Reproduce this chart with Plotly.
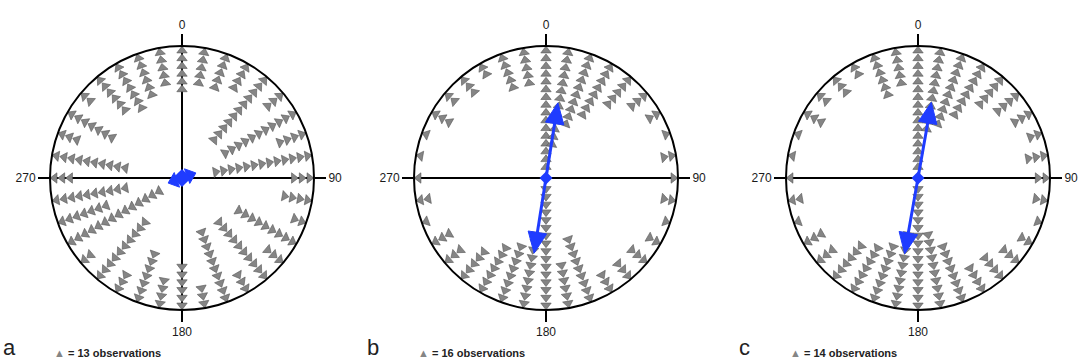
import math
import plotly.graph_objects as go

# ---------------- data ----------------
bin_angles = list(range(0, 360, 10))          # bin centres (degrees, compass)
counts_a = [6, 5, 5, 4, 11, 3, 11, 4, 13, 3, 4, 2, 9, 3, 10, 3, 10, 3,
            6, 4, 7, 3, 10, 2, 14, 7, 10, 3, 10, 3, 7, 2, 6, 7, 6, 5]
counts_b = [16, 13, 10, 8, 5, 3, 2, 1, 2, 1, 2, 1, 2, 3, 3, 3, 9, 6,
            16, 10, 8, 7, 5, 3, 3, 1, 2, 1, 1, 1, 3, 2, 3, 2, 5, 5]
counts_c = [16, 11, 10, 8, 5, 4, 3, 2, 3, 2, 2, 1, 2, 3, 4, 4, 8, 10,
            16, 10, 8, 7, 6, 3, 3, 1, 2, 1, 1, 1, 3, 2, 3, 2, 6, 5]
obs_per_symbol = [13, 16, 14]
mean_dir = [70, 9, 10]            # axial mean direction (deg)
mean_len = [1.9, 9.8, 9.9]        # mean vector length (symbol units)
panel_letters = ["a", "b", "c"]
tick_vals = [0, 90, 180, 270]
tick_text = ["0", "90", "180", "270"]
axis_lines = [[(0, 180), (270, 90)], [(270, 90)], [(270, 90)]]

# ---------------- style ----------------
W, H = 1084, 362
R_MAX = 17.0
OUTER = 16.4
centers_px = [182, 546, 918]
cy_px = 178
rad_px = 132
BLUE = "#1f3cff"
head_len = [1.2, 2.7, 2.7]
head_half = [1.0, 1.2, 1.2]
diam_size = [14, 10, 10]

all_counts = [counts_a, counts_b, counts_c]
fig = go.Figure()

def head_polygon(L, d, hl, hh):
    rb = L - hl
    rc = math.hypot(rb, hh)
    da = math.degrees(math.atan2(hh, rb))
    return [L, rc, rc, L], [d, d - da, d + da, d]

for i in range(3):
    sp = "polar" if i == 0 else f"polar{i+1}"
    # axis lines
    for (t1, t2) in axis_lines[i]:
        fig.add_trace(go.Scatterpolar(r=[R_MAX, 0, R_MAX], theta=[t1, 0, t2], mode="lines",
                                      line=dict(color="black", width=2), subplot=sp,
                                      hoverinfo="skip", showlegend=False))
    # stacked triangles
    rr, tt = [], []
    for ang, n in zip(bin_angles, all_counts[i]):
        for k in range(n):
            rr.append(OUTER - k)
            tt.append(ang)
    fig.add_trace(go.Scatterpolar(r=rr, theta=tt, mode="markers", subplot=sp,
                                  marker=dict(symbol="triangle-up", size=9, angle=tt,
                                              color="#858585",
                                              line=dict(color="#555555", width=0.6)),
                                  hoverinfo="skip", showlegend=False))
    # mean axis arrow
    d = mean_dir[i]
    L = mean_len[i]
    rb = L - head_len[i] * 0.6
    fig.add_trace(go.Scatterpolar(r=[rb, 0, rb], theta=[d + 180, d, d], mode="lines",
                                  line=dict(color=BLUE, width=3), subplot=sp,
                                  hoverinfo="skip", showlegend=False))
    for dd in (d, d + 180):
        pr, pt = head_polygon(L, dd, head_len[i], head_half[i])
        fig.add_trace(go.Scatterpolar(r=pr, theta=pt, mode="lines", fill="toself",
                                      fillcolor=BLUE, line=dict(color=BLUE, width=1),
                                      subplot=sp, hoverinfo="skip", showlegend=False))
    fig.add_trace(go.Scatterpolar(r=[0], theta=[0], mode="markers", subplot=sp,
                                  marker=dict(symbol="diamond", size=diam_size[i], color=BLUE),
                                  hoverinfo="skip", showlegend=False))

    cx = centers_px[i]
    dom_x = [(cx - rad_px) / W, (cx + rad_px) / W]
    dom_y = [1 - (cy_px + rad_px) / H, 1 - (cy_px - rad_px) / H]
    fig.update_layout(**{sp: dict(
        domain=dict(x=dom_x, y=dom_y),
        bgcolor="white",
        radialaxis=dict(visible=False, range=[0, R_MAX]),
        angularaxis=dict(rotation=90, direction="clockwise", tickmode="array",
                         tickvals=tick_vals, ticktext=tick_text, ticks="outside",
                         ticklen=11, tickwidth=2, tickcolor="black",
                         showline=True, linecolor="black", linewidth=2,
                         showgrid=False,
                         tickfont=dict(family="Liberation Sans, Arial", size=12, color="#1a1a1a")),
    )})

    fig.add_annotation(x=(cx - 181) / W, y=0, xref="paper", yref="paper",
                       xanchor="left", yanchor="bottom", showarrow=False,
                       text=panel_letters[i],
                       font=dict(family="Liberation Sans, Arial", size=22, color="#222"))
    fig.add_annotation(x=(cx - 130) / W, y=1 - 353 / H, xref="paper", yref="paper",
                       xanchor="left", yanchor="middle", showarrow=False,
                       text=f'<span style="color:#858585">▲</span> <b>= {obs_per_symbol[i]} observations</b>',
                       font=dict(family="Liberation Sans, Arial", size=11, color="#222"))

fig.update_layout(width=W, height=H, margin=dict(l=0, r=0, t=0, b=0),
                  paper_bgcolor="white", plot_bgcolor="white", showlegend=False)
fig.write_html("out.html", config={"displayModeBar": False, "staticPlot": True},
               post_script="document.body.style.margin='0';document.body.style.padding='0';"
                           "document.body.style.overflow='hidden';")
